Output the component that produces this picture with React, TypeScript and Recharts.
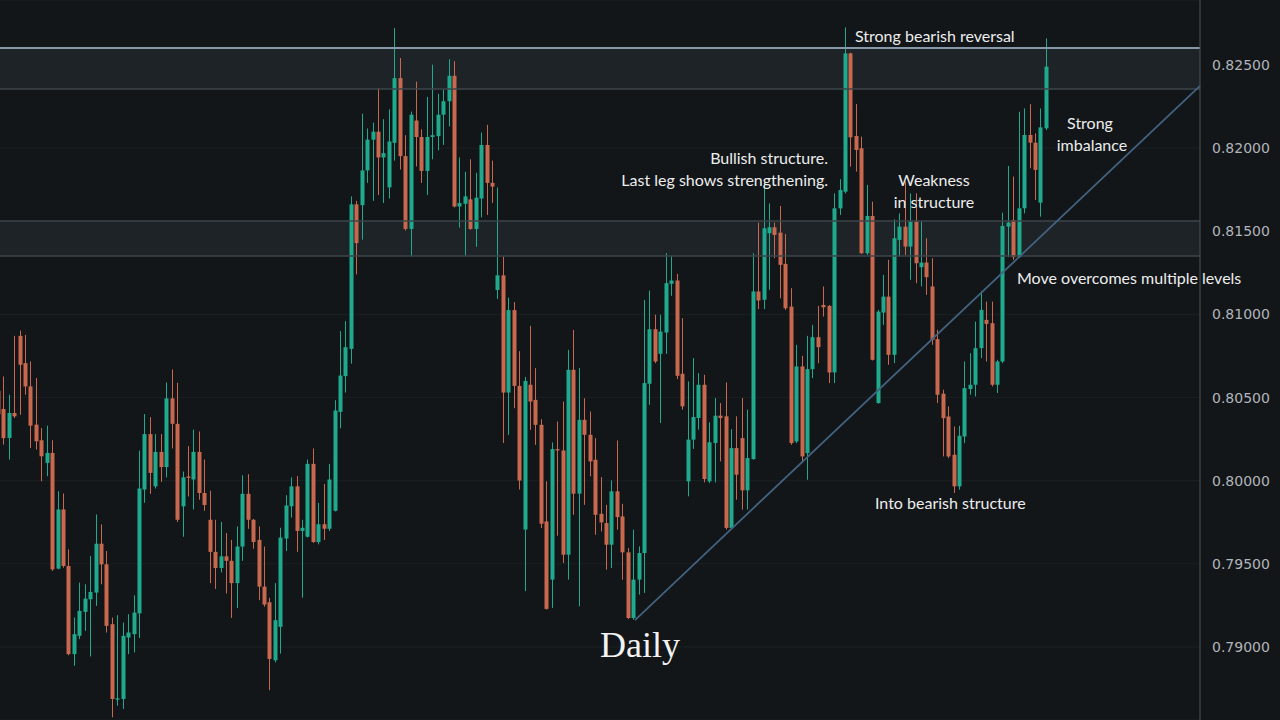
import React from 'react';
import { ComposedChart, Bar, XAxis, YAxis, CartesianGrid, ReferenceArea, ReferenceLine } from 'recharts';

const opens = [
  0.80540, 0.80431, 0.80257, 0.80407, 0.80871, 0.80707, 0.80567, 0.80337, 0.80243, 0.80107,
  0.80167, 0.79471, 0.79827, 0.79487, 0.78957, 0.79067, 0.79211, 0.79287, 0.79327, 0.79621,
  0.79497, 0.79137, 0.78683, 0.78687, 0.79057, 0.79077, 0.79202, 0.79947, 0.80280, 0.79966,
  0.80173, 0.80082, 0.80495, 0.80342, 0.79846, 0.80025, 0.80007, 0.80173, 0.79926, 0.79765,
  0.79572, 0.79475, 0.79545, 0.79518, 0.79384, 0.79604, 0.79921, 0.79765, 0.79644, 0.79363,
  0.79269, 0.78920, 0.79121, 0.79652, 0.79846, 0.79966, 0.79698, 0.79663, 0.80101, 0.79631,
  0.79738, 0.79711, 0.79819, 0.80414, 0.80629, 0.80793, 0.81662, 0.81657, 0.81866, 0.82051,
  0.82099, 0.81944, 0.81764, 0.82032, 0.82421, 0.81952, 0.81514, 0.82166, 0.82067, 0.81863,
  0.82067, 0.82072, 0.82201, 0.82282, 0.82435, 0.81649, 0.81665, 0.81692, 0.81514, 0.81697,
  0.82019, 0.81791, 0.81147, 0.81235, 0.80530, 0.81026, 0.80570, 0.79706, 0.80577, 0.80486,
  0.80336, 0.79755, 0.79405, 0.80190, 0.80182, 0.79555, 0.80667, 0.79922, 0.80366, 0.80276,
  0.80126, 0.79801, 0.79745, 0.79615, 0.79936, 0.79785, 0.79569, 0.79174, 0.79405, 0.79565,
  0.80583, 0.80911, 0.80763, 0.80891, 0.81184, 0.81204, 0.80643, 0.79996, 0.80247, 0.80377,
  0.80577, 0.79996, 0.80227, 0.80391, 0.80387, 0.79716, 0.80196, 0.80256, 0.79942, 0.80130,
  0.81138, 0.81088, 0.81488, 0.81524, 0.81492, 0.81304, 0.81047, 0.80236, 0.80687, 0.80166,
  0.80671, 0.80863, 0.81057, 0.81051, 0.80651, 0.81638, 0.81738, 0.82570, 0.82073, 0.81999,
  0.81368, 0.81592, 0.80467, 0.81011, 0.81107, 0.80757, 0.81448, 0.81528, 0.81408, 0.81558,
  0.81284, 0.81312, 0.81168, 0.80851, 0.80523, 0.80386, 0.80156, 0.79966, 0.80266, 0.80551,
  0.80577, 0.80797, 0.80967, 0.80947, 0.80577, 0.80717, 0.81528, 0.81568, 0.81344, 0.81638,
  0.82079, 0.82033, 0.81672, 0.82119,
];

const highs = [
  0.80567, 0.80627, 0.80517, 0.80871, 0.80903, 0.80877, 0.80717, 0.80617, 0.80317, 0.80331,
  0.80243, 0.79937, 0.79923, 0.79587, 0.79177, 0.79387, 0.79377, 0.79547, 0.79797, 0.79737,
  0.79577, 0.79177, 0.79191, 0.79147, 0.79197, 0.79311, 0.80181, 0.80401, 0.80382, 0.80280,
  0.80280, 0.80591, 0.80669, 0.80589, 0.80055, 0.80208, 0.80307, 0.80296, 0.80127, 0.79940,
  0.79765, 0.79752, 0.79685, 0.79644, 0.79725, 0.80033, 0.80039, 0.79770, 0.79725, 0.79604,
  0.79296, 0.79384, 0.79717, 0.79913, 0.80020, 0.80028, 0.79765, 0.80127, 0.80194, 0.79867,
  0.79980, 0.80101, 0.80484, 0.80900, 0.80959, 0.81710, 0.81683, 0.82207, 0.82118, 0.82153,
  0.82362, 0.82174, 0.82233, 0.82722, 0.82542, 0.82078, 0.82220, 0.82400, 0.82113, 0.82308,
  0.82502, 0.82327, 0.82354, 0.82534, 0.82523, 0.81944, 0.81858, 0.81933, 0.81852, 0.82094,
  0.82140, 0.81925, 0.81764, 0.81348, 0.81101, 0.81074, 0.80779, 0.80624, 0.80931, 0.80677,
  0.80370, 0.79996, 0.80230, 0.80356, 0.80476, 0.80787, 0.80907, 0.80677, 0.80496, 0.80416,
  0.80256, 0.80022, 0.79855, 0.80002, 0.80242, 0.79861, 0.79595, 0.79705, 0.79605, 0.81087,
  0.81143, 0.80998, 0.80998, 0.81368, 0.81352, 0.81244, 0.80977, 0.80597, 0.80737, 0.80647,
  0.80637, 0.80351, 0.80497, 0.80467, 0.80591, 0.80310, 0.80387, 0.80497, 0.80427, 0.81368,
  0.81552, 0.81799, 0.81668, 0.81552, 0.81652, 0.81484, 0.81158, 0.80817, 0.80751, 0.80871,
  0.80937, 0.81051, 0.81168, 0.81057, 0.81728, 0.81813, 0.82726, 0.82574, 0.82265, 0.82069,
  0.81779, 0.81678, 0.81027, 0.81238, 0.81328, 0.81572, 0.81608, 0.81799, 0.81728, 0.81728,
  0.81558, 0.81458, 0.81338, 0.80907, 0.80547, 0.80447, 0.80326, 0.80330, 0.80717, 0.80767,
  0.80957, 0.81138, 0.81077, 0.81077, 0.80727, 0.81612, 0.81893, 0.81829, 0.82219, 0.82239,
  0.82265, 0.82089, 0.82239, 0.82660,
];

const lows = [
  0.80300, 0.80217, 0.80127, 0.80377, 0.80397, 0.80517, 0.80197, 0.80187, 0.79997, 0.80027,
  0.79457, 0.79467, 0.79477, 0.78950, 0.78887, 0.79047, 0.79097, 0.78943, 0.79247, 0.79377,
  0.79087, 0.78577, 0.78647, 0.78627, 0.78957, 0.78967, 0.79054, 0.79867, 0.79921, 0.79953,
  0.79993, 0.80020, 0.80194, 0.79752, 0.79663, 0.79905, 0.79827, 0.79886, 0.79819, 0.79384,
  0.79349, 0.79448, 0.79322, 0.79175, 0.79234, 0.79518, 0.79711, 0.79591, 0.79282, 0.79242,
  0.78740, 0.78907, 0.78960, 0.79577, 0.79778, 0.79572, 0.79296, 0.79658, 0.79626, 0.79617,
  0.79644, 0.79698, 0.79815, 0.80315, 0.80530, 0.80704, 0.81241, 0.81450, 0.81791, 0.81683,
  0.81718, 0.81670, 0.81697, 0.81925, 0.81871, 0.81504, 0.81348, 0.81890, 0.81791, 0.81718,
  0.81933, 0.81987, 0.82019, 0.82131, 0.81643, 0.81522, 0.81353, 0.81509, 0.81407, 0.81584,
  0.81598, 0.81670, 0.81093, 0.80227, 0.80275, 0.80436, 0.79947, 0.79336, 0.80306, 0.80216,
  0.79715, 0.79225, 0.79235, 0.79669, 0.79505, 0.79405, 0.79795, 0.79245, 0.79855, 0.80026,
  0.79675, 0.79695, 0.79465, 0.79475, 0.79705, 0.79405, 0.79168, 0.79164, 0.79315, 0.79325,
  0.80456, 0.80707, 0.80347, 0.80763, 0.81112, 0.80611, 0.80427, 0.79906, 0.80191, 0.80307,
  0.79990, 0.79986, 0.79990, 0.80116, 0.79706, 0.79710, 0.79886, 0.79826, 0.79826, 0.80126,
  0.81032, 0.81032, 0.81148, 0.81338, 0.81097, 0.81027, 0.80216, 0.80226, 0.80106, 0.80006,
  0.80617, 0.80707, 0.80987, 0.80587, 0.80587, 0.81598, 0.81728, 0.81889, 0.81859, 0.81364,
  0.81358, 0.80723, 0.80463, 0.80937, 0.80697, 0.80707, 0.81348, 0.81358, 0.81208, 0.81188,
  0.81168, 0.81118, 0.80817, 0.80467, 0.80146, 0.80136, 0.79926, 0.79946, 0.80226, 0.80517,
  0.80507, 0.80737, 0.80717, 0.80567, 0.80527, 0.80707, 0.81344, 0.81328, 0.81340, 0.81608,
  0.81879, 0.81688, 0.81588, 0.82109,
];

const closes = [
  0.80400, 0.80256, 0.80407, 0.80387, 0.80697, 0.80567, 0.80331, 0.80237, 0.80147, 0.80167,
  0.79467, 0.79827, 0.79487, 0.78957, 0.79077, 0.79217, 0.79291, 0.79331, 0.79621, 0.79497,
  0.79127, 0.78687, 0.78691, 0.79067, 0.79087, 0.79207, 0.79953, 0.80280, 0.80047, 0.80173,
  0.80082, 0.80495, 0.80342, 0.79765, 0.80020, 0.80017, 0.80173, 0.79926, 0.79854, 0.79572,
  0.79475, 0.79545, 0.79518, 0.79384, 0.79604, 0.79921, 0.79765, 0.79631, 0.79363, 0.79255,
  0.78928, 0.79161, 0.79658, 0.79851, 0.79966, 0.79698, 0.79717, 0.80101, 0.79631, 0.79738,
  0.79711, 0.80007, 0.80422, 0.80632, 0.80803, 0.81662, 0.81429, 0.81866, 0.82051, 0.82099,
  0.81944, 0.81970, 0.82040, 0.82421, 0.81952, 0.81514, 0.82201, 0.82067, 0.81863, 0.82067,
  0.82078, 0.82201, 0.82282, 0.82435, 0.81649, 0.81670, 0.81710, 0.81514, 0.81702, 0.82019,
  0.81791, 0.81769, 0.81235, 0.80530, 0.81026, 0.80570, 0.80001, 0.80600, 0.80476, 0.80336,
  0.79741, 0.79229, 0.80190, 0.80182, 0.79555, 0.80667, 0.79922, 0.80366, 0.80276, 0.80116,
  0.79795, 0.79749, 0.79615, 0.79936, 0.79781, 0.79569, 0.79174, 0.79405, 0.79565, 0.80587,
  0.80911, 0.80717, 0.80897, 0.81188, 0.81204, 0.80631, 0.80447, 0.80247, 0.80383, 0.80577,
  0.80010, 0.80231, 0.80391, 0.80377, 0.79716, 0.80196, 0.80036, 0.79942, 0.80136, 0.81138,
  0.81084, 0.81518, 0.81524, 0.81478, 0.81298, 0.81037, 0.80226, 0.80687, 0.80146, 0.80671,
  0.80863, 0.80803, 0.81043, 0.80651, 0.81638, 0.81748, 0.82570, 0.82065, 0.81989, 0.81368,
  0.81592, 0.80727, 0.81017, 0.81107, 0.80757, 0.81458, 0.81528, 0.81408, 0.81558, 0.81308,
  0.81312, 0.81224, 0.80847, 0.80517, 0.80376, 0.80146, 0.79966, 0.80270, 0.80557, 0.80577,
  0.80797, 0.81027, 0.80943, 0.80577, 0.80717, 0.81532, 0.81552, 0.81344, 0.81638, 0.82079,
  0.82033, 0.81869, 0.82125, 0.82490,
];

const priceTicks = [0.79, 0.795, 0.8, 0.805, 0.81, 0.815, 0.82, 0.825];
const priceDomain = [0.785608, 0.828909];
const indexDomain = [0.258, 221.25];
const upperZone = [0.82356, 0.82602];
const lowerZone = [0.81351, 0.81562];
const trendFrom = { x: 117.2, y: 0.79162 };
const trendTo = { x: 221.25, y: 0.82374 };

const GREEN = '#1fa98d';
const RED = '#c8694f';
const BG = '#121619';

const data = opens.map((o, i) => ({
  i,
  o,
  h: highs[i],
  l: lows[i],
  c: closes[i],
  range: [lows[i], highs[i]],
}));

const Candle = (props: any) => {
  const { x, y, width, height, payload } = props;
  if (!payload || x == null || y == null) return null;
  const { o, h, l, c } = payload;
  const top = Math.min(y, y + height);
  const span = Math.abs(height);
  const py = (v: number) => top + ((h - v) / (h - l)) * span;
  const up = c >= o;
  const color = up ? GREEN : RED;
  const cx = Math.round(x + width / 2);
  const bTop = py(Math.max(o, c));
  const bBot = py(Math.min(o, c));
  return (
    <g>
      <rect x={cx - 1} y={top} width={1} height={span} fill={color} />
      <rect x={cx - 2.5} y={bTop} width={4} height={Math.max(1, bBot - bTop)} fill={color} />
    </g>
  );
};

type Note = { text: string; x: number; y: number; anchor?: 'start' | 'middle' | 'end' };
const notes: Note[] = [
  { text: 'Strong bearish reversal', x: 855, y: 42, anchor: 'start' },
  { text: 'Bullish structure.', x: 828, y: 164, anchor: 'end' },
  { text: 'Last leg shows strengthening.', x: 828, y: 186, anchor: 'end' },
  { text: 'Weakness', x: 934, y: 186, anchor: 'middle' },
  { text: 'in structure', x: 934, y: 208, anchor: 'middle' },
  { text: 'Strong', x: 1090, y: 129, anchor: 'middle' },
  { text: 'imbalance', x: 1092, y: 151, anchor: 'middle' },
  { text: 'Move overcomes multiple levels', x: 1017, y: 284, anchor: 'start' },
  { text: 'Into bearish structure', x: 875, y: 509, anchor: 'start' },
];

export default function App() {
  return (
    <div style={{ position: 'absolute', left: 0, top: 0, width: 1280, height: 720, background: BG, overflow: 'hidden' }}>
      <ComposedChart width={1280} height={720} data={data} margin={{ top: 0, right: 0, bottom: 0, left: 0 }}>
        <CartesianGrid horizontal vertical={false} stroke="#1b2023" />
        <XAxis type="number" dataKey="i" domain={indexDomain} allowDataOverflow hide />
        <YAxis
          orientation="right"
          width={80}
          type="number"
          domain={priceDomain}
          allowDataOverflow
          ticks={priceTicks}
          interval={0}
          tickFormatter={(v: number) => v.toFixed(5)}
          tick={{ fill: '#b1b4b9', fontSize: 14, fontFamily: 'DejaVu Sans' }}
          tickLine={false}
          tickMargin={6}
          axisLine={{ stroke: '#4d5258' }}
        />
        <ReferenceArea y1={upperZone[0]} y2={upperZone[1]} fill="#1d2327" fillOpacity={1} stroke="none" />
        <ReferenceArea y1={lowerZone[0]} y2={lowerZone[1]} fill="#1d2327" fillOpacity={1} stroke="none" />
        <ReferenceLine y={upperZone[0]} stroke="#3e464b" strokeWidth={1.5} />
        <ReferenceLine y={lowerZone[0]} stroke="#3e464b" strokeWidth={1.5} />
        <ReferenceLine y={lowerZone[1]} stroke="#3e464b" strokeWidth={1.5} />
        <Bar dataKey="range" barSize={4} isAnimationActive={false} shape={(p: any) => <Candle {...p} />} />
        <ReferenceLine y={upperZone[1]} stroke="#8799a8" strokeWidth={2} />
        <ReferenceLine
          segment={[trendFrom, trendTo]}
          stroke="#42627f"
          strokeWidth={1.8}
          ifOverflow="visible"
        />
      </ComposedChart>
      <svg width={1280} height={720} style={{ position: 'absolute', left: 0, top: 0, pointerEvents: 'none' }}>
        {notes.map((n) => (
          <text key={n.text} x={n.x} y={n.y} textAnchor={n.anchor} fill="#ededed" fontFamily="Lato" fontSize={16}>
            {n.text}
          </text>
        ))}
        <text x={600} y={657} fill="#f2f2f2" fontFamily="Liberation Serif" fontSize={36}>
          Daily
        </text>
      </svg>
    </div>
  );
}
